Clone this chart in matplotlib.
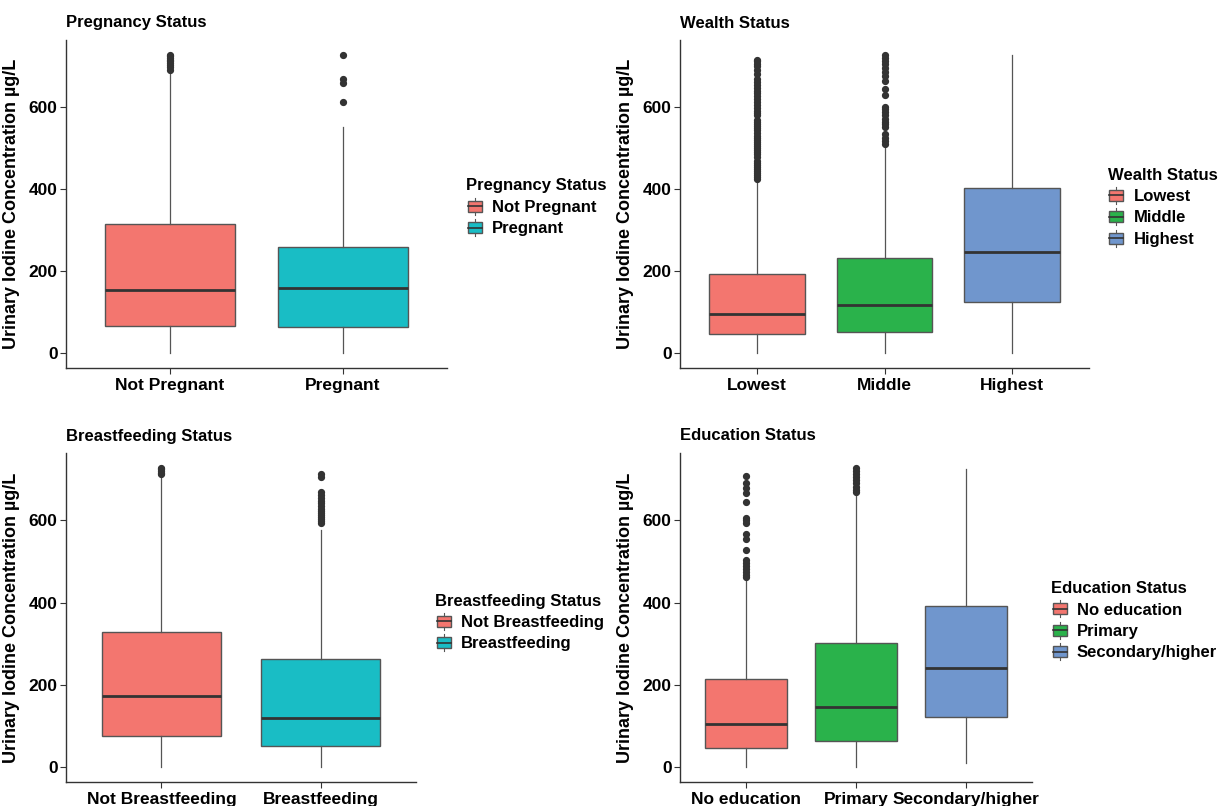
import matplotlib
matplotlib.use("Agg")
import matplotlib.pyplot as plt
from matplotlib.patches import Patch, Rectangle
from matplotlib.lines import Line2D
from matplotlib.legend_handler import HandlerBase

plt.rcParams['font.family'] = ['Liberation Sans', 'DejaVu Sans']
plt.rcParams['font.weight'] = 'bold'

# ---- data ----
preg_cats = ["Not Pregnant", "Pregnant"]
preg_q1 = [66, 65]
preg_med = [155, 158]
preg_q3 = [316, 260]
preg_lo = [0, 0]
preg_hi = [690, 551]
preg_out = [[692, 698, 703, 708, 712, 716, 720, 724, 728],
            [613, 660, 670, 728]]

wealth_cats = ["Lowest", "Middle", "Highest"]
wealth_q1 = [46, 51, 126]
wealth_med = [95, 117, 248]
wealth_q3 = [194, 233, 403]
wealth_lo = [0, 0, 0]
wealth_hi = [420, 505, 728]
wealth_out = [[425, 430, 435, 440, 445, 450, 455, 460, 465, 470, 478, 485, 490, 495,
               500, 505, 510, 515, 520, 525, 530, 538, 545, 550, 555, 560, 565, 568,
               580, 585, 590, 598, 605, 612, 620, 628, 635, 640, 648, 655, 662, 670,
               680, 690, 700, 705, 712, 715],
              [510, 518, 525, 535, 552, 558, 565, 572, 580, 588, 595, 600, 630, 645,
               665, 675, 685, 695, 705, 712, 720, 728],
              []]

bf_cats = ["Not Breastfeeding", "Breastfeeding"]
bf_q1 = [75, 51]
bf_med = [172, 119]
bf_q3 = [328, 262]
bf_lo = [0, 0]
bf_hi = [712, 576]
bf_out = [[712, 716, 720, 724, 728],
          [593, 598, 603, 608, 613, 618, 623, 628, 635, 642, 648, 655, 662, 668, 706, 712]]

edu_cats = ["No education", "Primary", "Secondary/higher"]
edu_q1 = [46, 63, 121]
edu_med = [104, 146, 240]
edu_q3 = [214, 301, 393]
edu_lo = [0, 0, 10]
edu_hi = [459, 665, 724]
edu_out = [[462, 468, 475, 482, 490, 497, 503, 527, 556, 568, 593, 600, 605, 644,
            666, 678, 692, 709],
           [668, 675, 682, 690, 698, 705, 712, 720, 728],
           []]

two_cols = ["#F3766F", "#19BDC5"]
three_cols = ["#F3766F", "#2AB24B", "#7096CD"]

DARK = "#333333"
EDGE = "#555555"


class BoxKey(HandlerBase):
    # ggplot-like boxplot legend key
    def create_artists(self, legend, orig_handle, xdescent, ydescent,
                       width, height, fontsize, trans):
        fc = orig_handle.get_facecolor()
        x0 = -xdescent
        y0 = -ydescent
        rect = Rectangle((x0 + 0.1 * width, y0 + 0.15 * height), 0.8 * width, 0.7 * height,
                         facecolor=fc, edgecolor=EDGE, lw=1.0, transform=trans)
        cx = x0 + width / 2
        w1 = Line2D([cx, cx], [y0 - 0.05 * height, y0 + 0.15 * height], color=EDGE, lw=0.8, transform=trans)
        w2 = Line2D([cx, cx], [y0 + 0.85 * height, y0 + 1.05 * height], color=EDGE, lw=0.8, transform=trans)
        med = Line2D([x0 + 0.1 * width, x0 + 0.9 * width], [y0 + 0.5 * height] * 2,
                     color=DARK, lw=1.2, transform=trans)
        return [rect, w1, w2, med]


def panel(ax, title, cats, q1, med, q3, lo, hi, out, cols, leg_anchor):
    stats = []
    for i in range(len(cats)):
        stats.append(dict(med=med[i], q1=q1[i], q3=q3[i], whislo=lo[i], whishi=hi[i],
                          fliers=out[i], label=cats[i]))
    pos = list(range(1, len(cats) + 1))
    bp = ax.bxp(stats, positions=pos, widths=0.75, patch_artist=True, showcaps=False,
                boxprops=dict(edgecolor=EDGE, lw=1.0),
                whiskerprops=dict(color=EDGE, lw=0.9),
                medianprops=dict(color=DARK, lw=2.0),
                flierprops=dict(marker="o", markerfacecolor=DARK, markeredgecolor=DARK,
                                markersize=4.2, linestyle="none"))
    for patch, c in zip(bp["boxes"], cols):
        patch.set_facecolor(c)
    ax.set_xlim(0.4, len(cats) + 0.6)
    ax.set_ylim(-36, 764)
    ax.set_yticks([0, 200, 400, 600])
    ax.set_xticks(pos)
    ax.set_xticklabels(cats)
    ax.tick_params(axis="x", labelsize=12.5, color=DARK, length=4, width=0.8, labelcolor="black")
    ax.tick_params(axis="y", labelsize=12.5, color=DARK, length=4, width=0.8, labelcolor="black", pad=2)
    for lab in ax.get_xticklabels() + ax.get_yticklabels():
        lab.set_fontweight("bold")
    for s in ["top", "right"]:
        ax.spines[s].set_visible(False)
    for s in ["left", "bottom"]:
        ax.spines[s].set_color(DARK)
        ax.spines[s].set_linewidth(1.0)
    ax.set_ylabel("Urinary Iodine Concentration µg/L", fontsize=13, fontweight="bold", labelpad=6)
    ax.set_title(title, fontsize=12, fontweight="bold", loc="left", x=0.0, pad=9)
    handles = [Patch(facecolor=c, edgecolor=EDGE) for c in cols]
    leg = ax.legend(handles, cats, title=title, loc="center left", bbox_to_anchor=leg_anchor,
                    frameon=False, fontsize=12, title_fontsize=12, alignment="left",
                    handlelength=1.05, handleheight=1.05, handletextpad=0.5, labelspacing=0.3,
                    handler_map={Patch: BoxKey()})
    leg.get_title().set_fontweight("bold")
    for t in leg.get_texts():
        t.set_fontweight("bold")


fig = plt.figure(figsize=(12.22, 8.06), dpi=100)
W, H = 1222, 806


def add_ax(left, right, top, bottom):
    return fig.add_axes([left / W, 1 - bottom / H, (right - left) / W, (bottom - top) / H])


ax1 = add_ax(66, 447, 40, 368)
ax2 = add_ax(680, 1089, 40, 368)
ax3 = add_ax(66, 416, 453, 782)
ax4 = add_ax(680, 1032, 453, 782)

panel(ax1, "Pregnancy Status", preg_cats, preg_q1, preg_med, preg_q3, preg_lo, preg_hi,
      preg_out, two_cols, (1.010, 0.49))
panel(ax2, "Wealth Status", wealth_cats, wealth_q1, wealth_med, wealth_q3, wealth_lo, wealth_hi,
      wealth_out, three_cols, (1.009, 0.49))
panel(ax3, "Breastfeeding Status", bf_cats, bf_q1, bf_med, bf_q3, bf_lo, bf_hi,
      bf_out, two_cols, (1.011, 0.485))
panel(ax4, "Education Status", edu_cats, edu_q1, edu_med, edu_q3, edu_lo, edu_hi,
      edu_out, three_cols, (1.011, 0.49))

fig.savefig("out.png", dpi=100, facecolor="white")
